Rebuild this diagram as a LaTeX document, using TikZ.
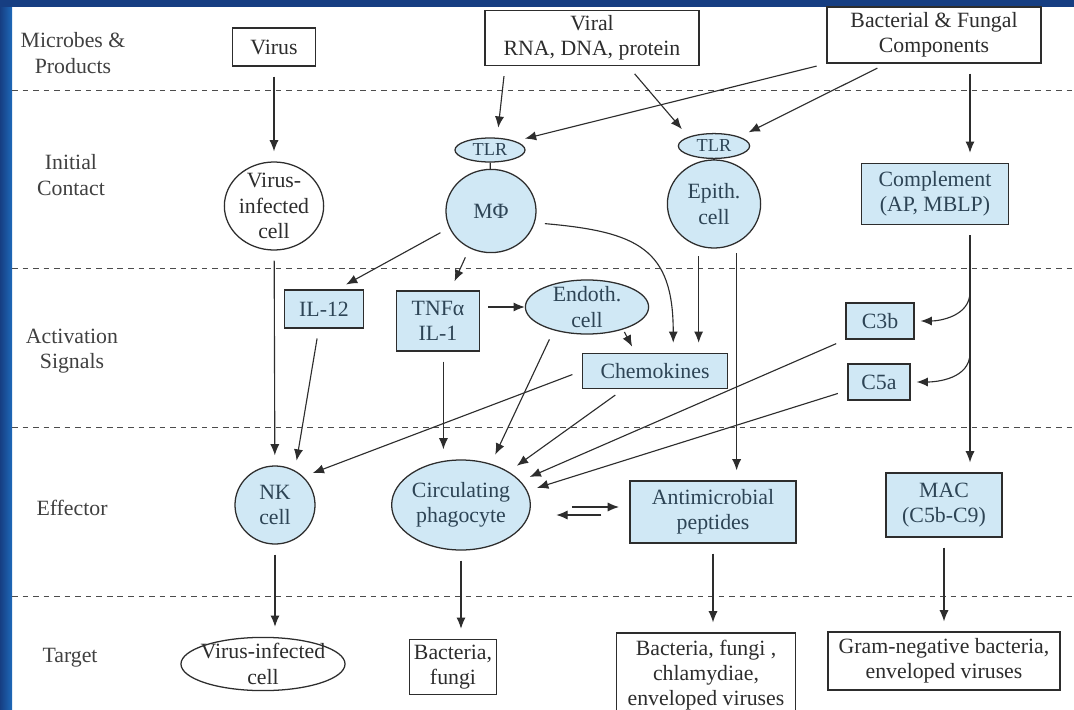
\documentclass[tikz,border=0pt]{standalone}
\usepackage{fontspec}
\setmainfont{Liberation Serif}
\usetikzlibrary{shapes.geometric,arrows.meta}
\definecolor{cellblue}{RGB}{208,232,245}
\definecolor{ink}{RGB}{45,45,45}
\definecolor{bluetxt}{RGB}{45,68,85}
\definecolor{framedark}{RGB}{22,62,130}
\definecolor{frameblue}{RGB}{30,105,185}
\tikzset{
  box/.style={draw=ink,line width=0.9pt,inner sep=0pt,align=center,text=ink},
  bluebox/.style={box,fill=cellblue,text=bluetxt},
  cell/.style={ellipse,draw=ink,line width=0.9pt,inner sep=0pt,align=center,fill=cellblue,text=bluetxt},
  tlrfont/.style={font=\fontsize{13}{15}\selectfont},
  rowlbl/.style={align=center,text=black!75},
  arr/.style={-{Latex[length=8pt,width=6.5pt]},draw=ink,line width=0.8pt},
  link/.style={arr,shorten <=0.25cm,shorten >=0.25cm},
}
\begin{document}
\begin{tikzpicture}[x=0.025cm,y=-0.025cm,font=\fontsize{15.5}{18}\selectfont]
\useasboundingbox (0,0) rectangle (1074,710);
\fill[white] (0,0) rectangle (1074,710);
\shade[left color=framedark,right color=frameblue] (0,0) rectangle (12,710);
\fill[framedark] (0,0) rectangle (1074,7);
\foreach \y in {90,268,427,596}
  \draw[ink!85,line width=0.7pt,dash pattern=on 4pt off 3.5pt] (12,\y)--(1074,\y);
\node[rowlbl] (lmic) at (73,53) {Microbes \&\\Products};
\node[rowlbl] (lini) at (71,175) {Initial\\Contact};
\node[rowlbl] (lact) at (72,351) {Activation\\Signals};
\node[rowlbl] (leff) at (72,508) {Effector};
\node[rowlbl] (ltar) at (70,658) {Target};
\node[box,minimum width=2.08cm,minimum height=0.95cm] (virus) at (274,47) {Virus};
\node[box,minimum width=5.35cm,minimum height=1.38cm] (viral) at (592,38) {Viral\\RNA, DNA, protein};
\node[box,minimum width=5.35cm,minimum height=1.4cm] (bact) at (934,35) {Bacterial \& Fungal\\Components};
\node[cell,fill=white,text=ink,minimum width=2.45cm,minimum height=2.2cm,inner ysep=-3pt] (vic) at (274,206) {Virus-\\infected\\cell};
\node[cell,tlrfont,minimum width=1.75cm,minimum height=0.6cm] (tlrm) at (490,150) {TLR};
\node[cell,minimum width=2.25cm,minimum height=2.08cm] (mphi) at (491,211) {MΦ};
\node[cell,tlrfont,minimum width=1.78cm,minimum height=0.62cm] (tlre) at (714,146) {TLR};
\node[cell,minimum width=2.33cm,minimum height=2.2cm] (epi) at (714,204) {Epith.\\cell};
\node[bluebox,minimum width=3.68cm,minimum height=1.53cm] (cpl) at (935,194) {Complement\\(AP, MBLP)};
\node[bluebox,minimum width=1.98cm,minimum height=0.95cm] (il12) at (324,309) {IL-12};
\node[bluebox,minimum width=2.08cm,minimum height=1.5cm] (tnf) at (438,321) {TNFα\\IL-1};
\node[cell,minimum width=3.08cm,minimum height=1.35cm,inner ysep=-2pt] (endo) at (587,307) {Endoth.\\cell};
\node[bluebox,minimum width=3.63cm,minimum height=0.88cm] (chem) at (655,371) {Chemokines};
\node[bluebox,minimum width=1.7cm,minimum height=0.9cm] (c3b) at (880,321) {C3b};
\node[bluebox,minimum width=1.55cm,minimum height=0.9cm] (c5a) at (879,382) {C5a};
\node[cell,minimum width=2cm,minimum height=1.95cm] (nk) at (275,505) {NK\\cell};
\node[cell,minimum width=3.3cm,minimum height=2.25cm] (phag) at (461,505) {Circulating\\phagocyte};
\node[bluebox,minimum width=4.15cm,minimum height=1.55cm] (amp) at (713,512) {Antimicrobial\\peptides};
\node[bluebox,minimum width=2.9cm,minimum height=1.6cm] (mac) at (944,505) {MAC\\(C5b-C9)};
\node[ellipse,draw=ink,line width=0.9pt,minimum width=4.1cm,minimum height=1.33cm] (tvic) at (263,664) {};
\node[align=center,text=ink] (tvict) at (tvic) {Virus-infected\\cell};
\node[box,minimum width=2.1cm,minimum height=1.38cm,inner xsep=3pt] (bf) at (453,667) {Bacteria,\\fungi};
\node[box,minimum width=4.48cm,minimum height=2.1cm] (bfc) at (706,675) {Bacteria, fungi ,\\chlamydiae,\\enveloped viruses};
\node[box,minimum width=5.8cm,minimum height=1.45cm] (gram) at (944,661) {Gram-negative bacteria,\\enveloped viruses};
\coordinate (cx) at (970,0);
\coordinate (br1) at (970,292);
\coordinate (br2) at (970,353);
\draw[link] (virus) -- (vic);
\draw[link] (viral.-162) -- (tlrm.60);
\draw[link] (viral.-38) -- (tlre.north west);
\draw[link] (bact.south west) -- (tlrm.north east);
\draw[link] (bact.-149) -- (tlre.north east);
\draw[link] (bact.south -| cx) -- (cpl.north -| cx);
\draw[ink,line width=0.8pt] (tlrm) -- (mphi);
\draw[ink,line width=0.8pt] (tlre) -- (epi);
\draw[link] (vic) -- (nk);
\draw[link] (il12.-105) -- (nk.60);
\draw[link] (mphi.-158) -- (il12.56);
\draw[link] (mphi.-120) -- (tnf.68);
\draw[link] (mphi.-15) to[out=-5,in=90,looseness=1.4] (chem.45);
\draw[link] (epi.-110) -- (epi.-110 |- chem.north);
\draw[link] (epi.-60) -- (epi.-60 |- amp.north);
\draw[arr,shorten <=0.2cm] (tnf.east |- endo.west) -- (endo.west);
\draw[arr,shorten <=2pt,shorten >=5pt] (endo.-32) -- (chem.137);
\draw[link] (tnf.-80) -- (tnf.-80 |- phag.north);
\draw[link] (endo.-145) -- (phag.54);
\draw[link] (chem.west) -- (nk.45);
\draw[link] (chem.-150) -- (phag.35);
\draw[link] (c3b.south west) -- (phag.22);
\draw[link] (c5a.-165) -- (phag.12);
\draw[arr,shorten >=0.15cm] (br1) to[out=-90,in=0] (c3b.east);
\draw[arr,shorten >=0.15cm] (br2) to[out=-90,in=0] (c5a.east);
\draw[link] (cpl.south -| cx) -- (mac.north -| cx);
\draw[arr] (phag.east) ++(41,2) -- ++(47,0);
\draw[arr] (amp.west) ++(-28,3) -- ++(-45,0);
\draw[link] (nk.south) -- (nk.south |- tvic.north);
\draw[link] (phag.south) -- (phag.south |- bf.north);
\draw[link] (amp.south) -- (amp.south |- bfc.north);
\draw[link] (mac.south) -- (gram.north);
\end{tikzpicture}
\end{document}
